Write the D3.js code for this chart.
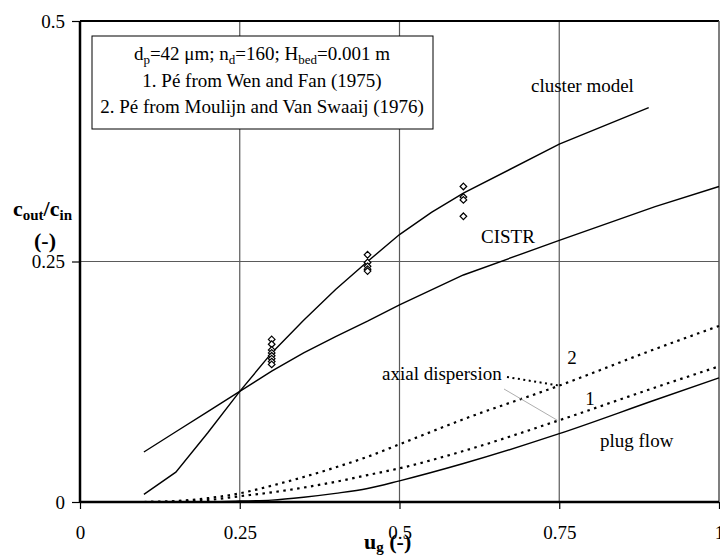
<!DOCTYPE html>
<html>
<head>
<meta charset="utf-8">
<script src="https://cdn.jsdelivr.net/npm/d3@7"></script>
<style>
  html, body { margin: 0; padding: 0; background: #fff; }
  svg { display: block; font-family: "Liberation Serif", "Times New Roman", serif; }
</style>
</head>
<body>
<svg id="chart" width="720" height="556"></svg>
<script>
// Tick values
const xTicks = [0, 0.25, 0.5, 0.75, 1];
const yTicks = [0, 0.25, 0.5];

// Cluster model
const clusterU = [0.1, 0.15, 0.2, 0.25, 0.3, 0.35, 0.4, 0.45, 0.5, 0.55, 0.6, 0.75, 0.89];
const clusterC = [0.008, 0.031, 0.072, 0.115, 0.155, 0.189, 0.221, 0.250, 0.278, 0.301, 0.321, 0.372, 0.410];

// CISTR
const cistrU = [0.1, 0.15, 0.2, 0.25, 0.3, 0.35, 0.4, 0.45, 0.5, 0.6, 0.75, 0.9, 1.0];
const cistrC = [0.052, 0.073, 0.094, 0.115, 0.136, 0.155, 0.172, 0.188, 0.205, 0.236, 0.272, 0.307, 0.328];

// Plug flow
const plugU = [0.1, 0.2, 0.25, 0.3, 0.35, 0.4, 0.45, 0.5, 0.6, 0.75, 0.9, 1.0];
const plugC = [0, 0.0003, 0.001, 0.002, 0.005, 0.009, 0.014, 0.022, 0.040, 0.071, 0.106, 0.129];

// Axial dispersion, 1. Pé from Wen and Fan (1975)
const disp1U = [0.1, 0.15, 0.2, 0.25, 0.3, 0.35, 0.4, 0.45, 0.5, 0.6, 0.75, 0.9, 1.0];
const disp1C = [0, 0.0005, 0.002, 0.006, 0.010, 0.015, 0.021, 0.028, 0.035, 0.053, 0.085, 0.119, 0.141];

// Axial dispersion, 2. Pé from Moulijn and Van Swaaij (1976)
const disp2U = [0.1, 0.15, 0.2, 0.25, 0.3, 0.35, 0.4, 0.45, 0.5, 0.6, 0.75, 0.9, 1.0];
const disp2C = [0, 0.001, 0.004, 0.009, 0.017, 0.026, 0.036, 0.047, 0.060, 0.086, 0.121, 0.159, 0.183];

// Measurements
const expU = [0.3, 0.3, 0.3, 0.3, 0.3, 0.3, 0.3, 0.3,
              0.45, 0.45, 0.45, 0.45, 0.45,
              0.6, 0.6, 0.6, 0.6];
const expC = [0.169, 0.164, 0.158, 0.155, 0.152, 0.149, 0.146, 0.143,
              0.257, 0.249, 0.245, 0.242, 0.240,
              0.328, 0.317, 0.314, 0.297];

const svg = d3.select("#chart");
const plotLeft = 80, plotRight = 719, plotTop = 21, plotBottom = 502;

const x = d3.scaleLinear().domain([0, 1]).range([plotLeft, plotRight]);
const y = d3.scaleLinear().domain([0, 0.5]).range([plotBottom, plotTop]);

// Grid lines
const grid = svg.append("g").attr("stroke", "#5a5a5a").attr("stroke-width", 1.2);
grid.selectAll("line.v").data([0.25, 0.5, 0.75]).join("line").attr("class", "v")
  .attr("x1", d => x(d)).attr("x2", d => x(d)).attr("y1", y(0)).attr("y2", y(0.5));
grid.selectAll("line.h").data([0.25]).join("line").attr("class", "h")
  .attr("x1", x(0)).attr("x2", x(1)).attr("y1", d => y(d)).attr("y2", d => y(d));

// Plot frame: top and right edges
svg.append("line").attr("x1", x(0)).attr("x2", x(1)).attr("y1", y(0.5)).attr("y2", y(0.5))
  .attr("stroke", "#000").attr("stroke-width", 2);
svg.append("line").attr("x1", x(1)).attr("x2", x(1)).attr("y1", y(0.5)).attr("y2", y(0))
  .attr("stroke", "#555").attr("stroke-width", 1.5);

// Legend box
const leg = svg.append("g");
leg.append("rect").attr("x", 92).attr("y", 36).attr("width", 341).attr("height", 93)
  .attr("fill", "#fff").attr("stroke", "#000").attr("stroke-width", 1);
const legText = leg.append("g").attr("font-size", 19).attr("text-anchor", "middle").attr("fill", "#000");
const l1 = legText.append("text").attr("x", 262).attr("y", 60);
l1.append("tspan").text("d");
l1.append("tspan").attr("font-size", 13).attr("dy", 4).text("p");
l1.append("tspan").attr("dy", -4).text("=42 μm; n");
l1.append("tspan").attr("font-size", 13).attr("dy", 4).text("d");
l1.append("tspan").attr("dy", -4).text("=160; H");
l1.append("tspan").attr("font-size", 13).attr("dy", 4).text("bed");
l1.append("tspan").attr("dy", -4).text("=0.001 m");
legText.append("text").attr("x", 262).attr("y", 87).text("1. Pé from Wen and Fan (1975)");
legText.append("text").attr("x", 262).attr("y", 113).text("2. Pé from Moulijn and Van Swaaij (1976)");

// Model curves
const lineLin = d3.line().x(d => x(d[0])).y(d => y(d[1]));
const lineSmooth = d3.line().x(d => x(d[0])).y(d => y(d[1])).curve(d3.curveMonotoneX);
const zip = (a, b) => a.map((v, i) => [v, b[i]]);

svg.append("path").attr("d", lineLin(zip(clusterU, clusterC)))
  .attr("fill", "none").attr("stroke", "#000").attr("stroke-width", 1.4);
svg.append("path").attr("d", lineLin(zip(cistrU, cistrC)))
  .attr("fill", "none").attr("stroke", "#000").attr("stroke-width", 1.4);
svg.append("path").attr("d", lineSmooth(zip(plugU, plugC)))
  .attr("fill", "none").attr("stroke", "#000").attr("stroke-width", 1.4);
svg.append("path").attr("d", lineSmooth(zip(disp1U, disp1C)))
  .attr("fill", "none").attr("stroke", "#000").attr("stroke-width", 2.2)
  .attr("stroke-dasharray", "2.5,4.5");
svg.append("path").attr("d", lineSmooth(zip(disp2U, disp2C)))
  .attr("fill", "none").attr("stroke", "#000").attr("stroke-width", 2.2)
  .attr("stroke-dasharray", "2.5,4.5");

// Measured points (open square-proportioned diamonds)
const squareDiamond = {
  draw(ctx, size) {
    const r = Math.sqrt(size) / 2;
    ctx.moveTo(0, -r); ctx.lineTo(r, 0); ctx.lineTo(0, r); ctx.lineTo(-r, 0); ctx.closePath();
  }
};
const diamond = d3.symbol().type(squareDiamond).size(44);
svg.append("g").selectAll("path").data(zip(expU, expC)).join("path")
  .attr("transform", d => `translate(${x(d[0])},${y(d[1])})`)
  .attr("d", diamond).attr("fill", "#fff").attr("stroke", "#000").attr("stroke-width", 1.2);

// Axes
const xAxis = svg.append("g").attr("transform", `translate(0,${plotBottom})`)
  .call(d3.axisBottom(x).tickValues(xTicks).tickSize(7).tickFormat(d => String(d)));
const yAxis = svg.append("g").attr("transform", `translate(${plotLeft},0)`)
  .call(d3.axisLeft(y).tickValues(yTicks).tickSize(8).tickFormat(d => String(d)));
[xAxis, yAxis].forEach(a => {
  a.select(".domain").attr("stroke", "#000").attr("stroke-width", 2.5);
  a.selectAll(".tick line").attr("stroke", "#000").attr("stroke-width", 1.2);
  a.selectAll(".tick text").attr("fill", "#000")
    .attr("font-family", "Liberation Serif, Times New Roman, serif").attr("font-size", 19);
});
xAxis.select(".domain").attr("d", `M${plotLeft},0H${plotRight}`);
yAxis.select(".domain").attr("d", `M0,${plotTop}V${plotBottom}`);
xAxis.selectAll(".tick text").attr("y", 37).attr("dy", 0);
yAxis.selectAll(".tick text").attr("x", -15).attr("dy", "0.33em");

// Axis titles
const yt = svg.append("g").attr("font-weight", "bold").attr("font-size", 22).attr("fill", "#000");
const yl = yt.append("text").attr("x", 13).attr("y", 216);
yl.append("tspan").text("c");
yl.append("tspan").attr("font-size", 15).attr("dy", 4).text("out");
yl.append("tspan").attr("dy", -4).text("/c");
yl.append("tspan").attr("font-size", 15).attr("dy", 4).text("in");
yt.append("text").attr("x", 45).attr("y", 248).attr("text-anchor", "middle").text("(-)");

const xl = svg.append("text").attr("x", 364).attr("y", 549)
  .attr("font-weight", "bold").attr("font-size", 22).attr("fill", "#000");
xl.append("tspan").text("u");
xl.append("tspan").attr("font-size", 15).attr("dy", 3).text("g");
xl.append("tspan").attr("dy", -3).text(" (-)");

// Curve labels
const lab = svg.append("g").attr("font-size", 19).attr("fill", "#000");
lab.append("text").attr("x", 531).attr("y", 92).text("cluster model");
lab.append("text").attr("x", 481).attr("y", 243).text("CISTR");
lab.append("text").attr("x", 382).attr("y", 380).text("axial dispersion");
lab.append("text").attr("x", 572).attr("y", 364).attr("text-anchor", "middle").text("2");
lab.append("text").attr("x", 590).attr("y", 405).attr("text-anchor", "middle").text("1");
lab.append("text").attr("x", 600).attr("y", 447).text("plug flow");

// Leader lines from "axial dispersion" to curves 2 and 1
svg.append("line").attr("x1", 507).attr("y1", 377).attr("x2", x(0.75)).attr("y2", y(0.121))
  .attr("stroke", "#000").attr("stroke-width", 2).attr("stroke-dasharray", "2,3.5");
svg.append("line").attr("x1", 504).attr("y1", 389).attr("x2", x(0.75) - 2).attr("y2", y(0.085))
  .attr("stroke", "#999").attr("stroke-width", 0.8);
</script>
</body>
</html>
